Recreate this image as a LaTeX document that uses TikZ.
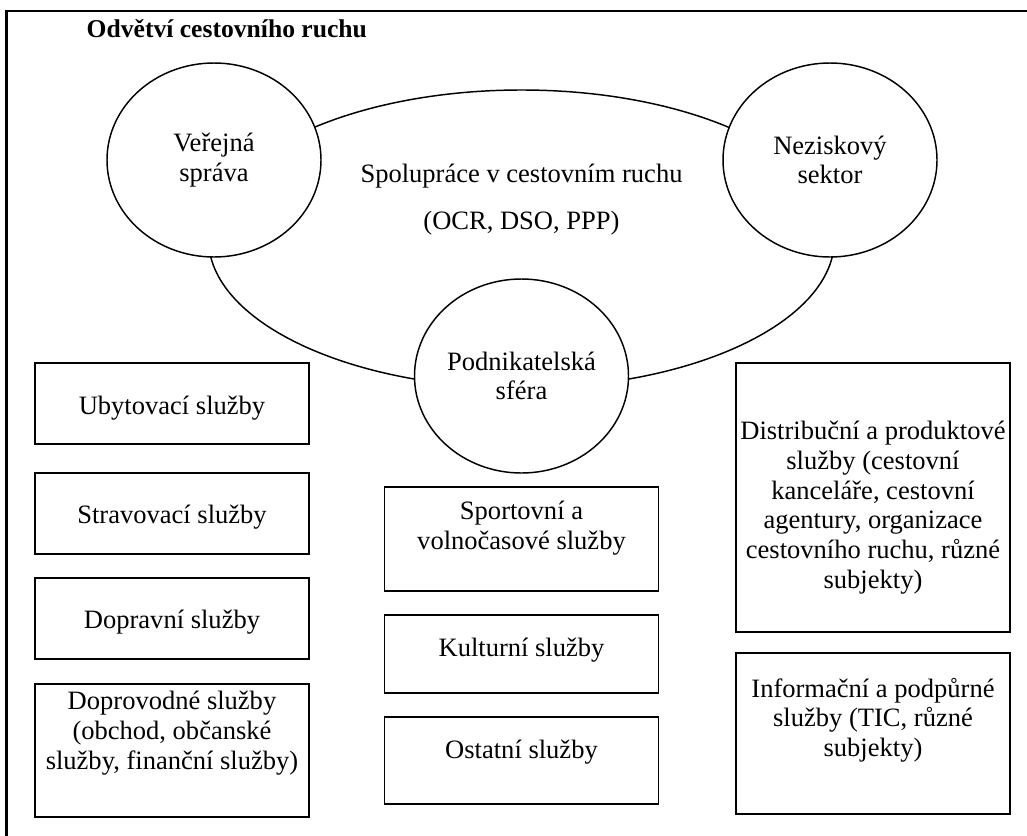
\documentclass[tikz,border=0pt]{standalone}
\usepackage{fontspec}
\setmainfont{Liberation Serif}
\usetikzlibrary{shapes.geometric}
\tikzset{
  sfera/.style={draw, ellipse, fill=white, line width=1.1pt, minimum width=160.5pt, minimum height=145.5pt, align=center, inner sep=0pt},
  ramec/.style={draw, line width=1.4pt, minimum width=205.5pt, inner sep=0pt},
  popis/.style={align=center, inner sep=0pt}
}
\begin{document}
\begin{tikzpicture}[x=0.75pt,y=-0.75pt,font=\fontsize{19.9}{22.3}\selectfont]
\useasboundingbox (0,0) rectangle (1027,835);
\draw[line width=1.8pt] (6.5,11) rectangle (1040,850);
\node[anchor=base west, font=\fontsize{19.2}{22}\selectfont\bfseries] (nadpis) at (82,37) {Odvětví cestovního ruchu};
% spoluprace
\node[draw, ellipse, line width=1.1pt, minimum width=469.5pt, minimum height=223.5pt] (spoluprace) at (521.5,239) {};
\node[popis] (spolutext) at (521.5,199.5) {Spolupráce v cestovním ruchu\\[13pt](OCR, DSO, PPP)};
\node[sfera] (verejna) at (214,160) {Veřejná\\správa};
\node[sfera] (nezisk) at (830,160) {Neziskový\\sektor};
\node[sfera] (podnik) at (521.5,376) {Podnikatelská\\sféra};
% levy sloupec
\node[ramec, minimum height=60.75pt] (ubyt) at (172,403.5) {};
\node[popis] (ubyt-t) at (172,408) {Ubytovací služby};
\node[ramec, minimum height=60.75pt] (strav) at (172,513.5) {};
\node[popis] (strav-t) at (172,517) {Stravovací služby};
\node[ramec, minimum height=60.75pt] (doprav) at (172,618.5) {};
\node[popis] (doprav-t) at (172,622) {Dopravní služby};
\node[ramec, minimum height=99.75pt] (doprov) at (172,750.5) {};
\node[popis] (doprov-t) at (172,733) {Doprovodné služby\\(obchod, občanské\\služby, finanční služby)};
% prostredni sloupec
\node[ramec, minimum height=78pt] (sport) at (521.5,539) {};
\node[popis] (sport-t) at (521.5,528) {Sportovní a\\volnočasové služby};
\node[ramec, minimum height=58.5pt] (kult) at (521.5,654) {};
\node[popis] (kult-t) at (521.5,650) {Kulturní služby};
\node[ramec, minimum height=65.25pt] (ostat) at (521.5,760.5) {};
\node[popis] (ostat-t) at (521.5,752) {Ostatní služby};
% pravy sloupec
\node[ramec, minimum height=201.75pt] (distr) at (873,497.5) {};
\node[popis] (distr-t) at (873,507.5) {Distribuční a produktové\\služby (cestovní\\kanceláře, cestovní\\agentury, organizace\\cestovního ruchu, různé\\subjekty)};
\node[ramec, minimum height=120.75pt] (inform) at (873,733.5) {};
\node[popis] (inform-t) at (873,720) {Informační a podpůrné\\služby (TIC, různé\\subjekty)};
\end{tikzpicture}
\end{document}
